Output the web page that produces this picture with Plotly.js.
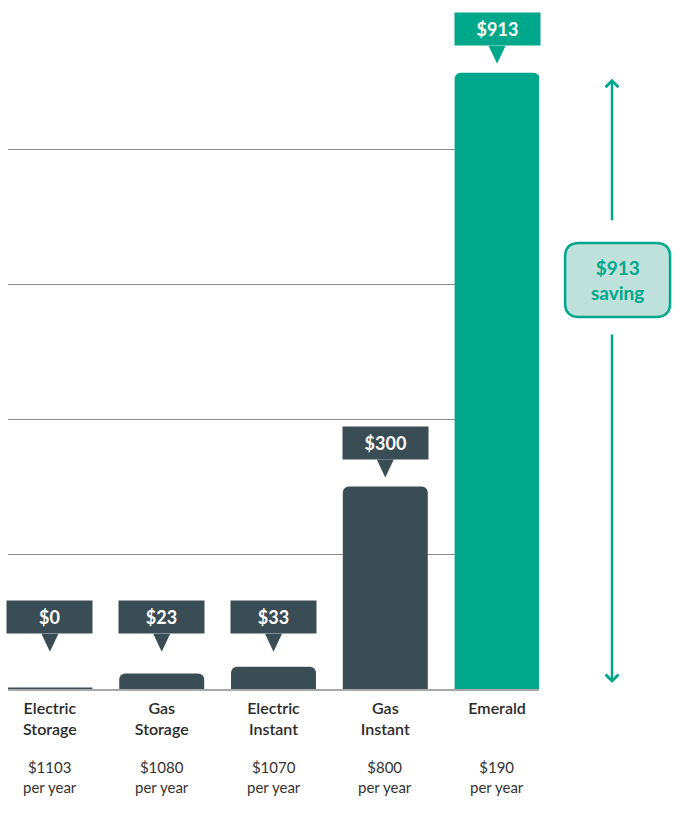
<!DOCTYPE html>
<html>
<head>
<meta charset="utf-8">
<script src="https://cdn.plot.ly/plotly-3.0.1.min.js"></script>
<style>
html,body{margin:0;padding:0;background:#fff}
#chart{width:680px;height:817px}
</style>
</head>
<body>
<div id="chart"></div>
<script>
// heater types and yearly savings compared to electric storage
let categories = ["Electric Storage","Gas Storage","Electric Instant","Gas Instant","Emerald"]
let tickNames = ["Electric<br>Storage","Gas<br>Storage","Electric<br>Instant","Gas<br>Instant","Emerald"]
let savings = [0,23,33,300,913]
let yearlyCost = [1103,1080,1070,800,190]
let gridValues = [200,400,600,800]

let dark = "#3a4d54"
let green = "#00a88b"
let colors = categories.map((c,i)=> i==categories.length-1 ? green : dark)

let best = savings[savings.length-1]

let shapes = []
let annotations = []

categories.forEach((c,i)=>{

// callout box sits above the bar, with a floor for tiny bars
let anchor = Math.max(savings[i],42)

shapes.push({
type:"path",
xref:"x", yref:"y",
xsizemode:"pixel", ysizemode:"pixel",
xanchor:c, yanchor:anchor,
path:"M-8.5,27 L8.5,27 L0,9 Z",
fillcolor:colors[i],
line:{width:0}
})

annotations.push({
x:c, y:anchor, xref:"x", yref:"y",
yanchor:"bottom", yshift:27,
text:"<b>$"+savings[i]+"</b>",
showarrow:false,
width:85, height:32, borderpad:0,
bgcolor:colors[i],
font:{family:"Lato, sans-serif", size:18, color:"#fff"}
})

annotations.push({
x:c, y:0, xref:"x", yref:"paper",
yanchor:"middle", yshift:-88,
text:"$"+yearlyCost[i]+"<br>per year",
showarrow:false,
font:{family:"Lato, sans-serif", size:15, color:"#333"}
})

// zero saving still gets a thin bar on the baseline
if(savings[i]==0){
shapes.push({
type:"line", xref:"x", yref:"y",
x0:i-0.38, x1:i+0.38, y0:0, y1:0,
line:{color:colors[i], width:3}
})
}

})

// the saving arrow on the right
let arrowX = 1.1375
let labelX = 1.148
let labelY = 606

annotations.push({
x:arrowX, y:best, xref:"paper", yref:"y",
ax:0, ay:149, axref:"pixel", ayref:"pixel",
text:"", showarrow:true,
arrowhead:4, arrowsize:1, arrowwidth:2.5, arrowcolor:green, standoff:6
})

annotations.push({
x:arrowX, y:0, xref:"paper", yref:"y",
ax:0, ay:-356, axref:"pixel", ayref:"pixel",
text:"", showarrow:true,
arrowhead:4, arrowsize:1, arrowwidth:2.5, arrowcolor:green, standoff:6
})

shapes.push({
type:"path",
xref:"paper", yref:"y",
xsizemode:"pixel", ysizemode:"pixel",
xanchor:labelX, yanchor:labelY,
path:"M-38.5,37 L38.5,37 Q52.5,37 52.5,23 L52.5,-23 Q52.5,-37 38.5,-37 L-38.5,-37 Q-52.5,-37 -52.5,-23 L-52.5,23 Q-52.5,37 -38.5,37 Z",
fillcolor:"#bfe1db",
line:{color:green, width:2.5}
})

annotations.push({
x:labelX, y:labelY, xref:"paper", yref:"y",
xanchor:"center", yanchor:"middle", align:"center",
text:"<b>$"+best+"</b><br><b>saving</b>",
showarrow:false,
font:{family:"Lato, sans-serif", size:19, color:green}
})

let trace = {
x:categories,
y:savings,
type:"bar",
marker:{color:colors},
hoverinfo:"none"
}

let layout = {
width:680,
height:817,
margin:{l:8, r:141, t:14, b:128},
paper_bgcolor:"#fff",
plot_bgcolor:"#fff",
showlegend:false,
bargap:0.24,
barcornerradius:6,
font:{family:"Lato, sans-serif", color:"#333"},
xaxis:{
type:"category",
range:[-0.375,4.375],
tickvals:categories,
ticktext:tickNames,
ticks:"",
ticklabelstandoff:4,
showline:true,
linecolor:"#a8a8a8",
linewidth:2,
layer:"below traces",
showgrid:false,
tickfont:{family:"Lato, sans-serif", size:16, color:"#2b2b2b", weight:600},
fixedrange:true
},
yaxis:{
range:[0,1000],
tickvals:gridValues,
showticklabels:false,
ticks:"",
showgrid:true,
gridcolor:"#8c8c8c",
gridwidth:1,
zeroline:false,
fixedrange:true
},
shapes:shapes,
annotations:annotations
}

Plotly.newPlot("chart",[trace],layout,{displayModeBar:false,staticPlot:true})
</script>
</body>
</html>
